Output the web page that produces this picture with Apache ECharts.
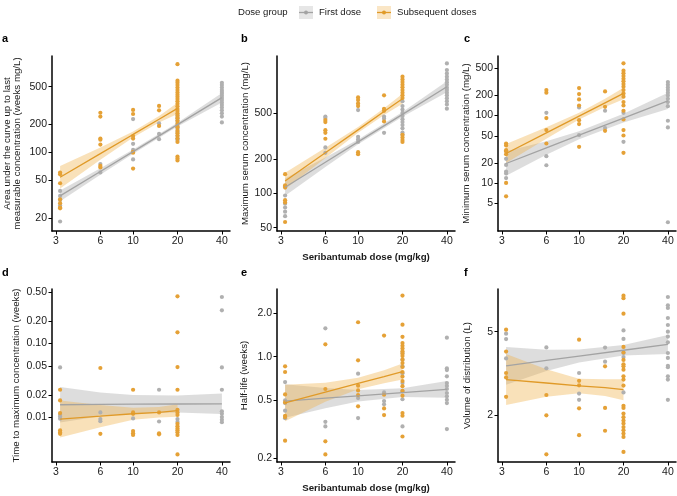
<!DOCTYPE html>
<html><head><meta charset="utf-8">
<script src="https://cdn.jsdelivr.net/npm/echarts@6/dist/echarts.min.js"></script>
<style>html,body{margin:0;padding:0;background:#fff}#c{width:677px;height:496px}</style>
</head><body><div id="c"></div>
<script>
// ---------- data ----------
const xTickLabels = ['3', '6', '10', '20', '40'];
const fitXFirst = [3.2, 6, 10, 20, 40];
const fitXSub = [3.2, 6, 10, 15, 20];
const groupNames = ['First dose', 'Subsequent doses'];

// a: AUC
const aucTicks = ['20', '50', '100', '200', '500'];
const aucFirst = [[3.2, [38.8, 34.3, 31.1, 27.1, 18.3]], [6, [75, 61]], [10, [226, 123, 106, 84]], [15, [204, 157, 138]],
  [20, [250, 235, 220, 205, 190, 178, 165, 150, 140, 135]],
  [40, [550, 520, 490, 460, 440, 420, 400, 380, 360, 340, 320, 300, 280, 260, 240, 208]]];
const aucSub = [[3.2, [60.8, 58.3, 46.8, 31.6, 28.7, 25.8, 25.3]], [6, [264, 240, 140, 136, 121, 71.6, 69]],
  [10, [283, 256, 149, 140, 101, 99, 67]], [15, [312, 280, 191]],
  [20, [870, 580, 552, 520, 490, 460, 435, 410, 390, 370, 350, 330, 310, 290, 275, 260, 245, 230, 215, 200, 185, 170, 160, 150, 140, 129, 90, 86, 82]]];
const aucFirstMid = [34.3, 62.4, 101.6, 197, 382];
const aucFirstLo = [30.0, 57.6, 96.6, 188, 340];
const aucFirstHi = [39.2, 67.6, 106.9, 206, 429];
const aucSubMid = [54.2, 96.8, 155, 225, 294];
const aucSubLo = [41.1, 83.4, 144, 207.5, 256];
const aucSubHi = [71.5, 112.4, 166.8, 244, 337.6];

// b: Cmax
const cmaxTicks = ['50', '100', '200', '500'];
const cmaxFirst = [[3.2, [115, 95.5, 81, 75, 69, 63]], [6, [470, 455, 252, 226]], [10, [535, 312, 296, 281]], [15, [468, 450, 338]],
  [20, [640, 580, 540, 505, 475, 445, 420, 395, 370, 340, 325]],
  [40, [1370, 1200, 1120, 1050, 990, 940, 890, 840, 800, 760, 720, 680, 640, 600, 550]]];
const cmaxSub = [[3.2, [147, 117, 112, 87, 83, 56]], [6, [437, 420, 357, 338, 300]], [10, [690, 654, 612, 580, 229, 220]],
  [15, [720, 549, 527, 425]], [20, [1049, 993, 942, 893, 846, 802, 760, 720, 682, 325, 308, 292, 281]]];
const cmaxFirstMid = [113, 187, 282, 491, 857];
const cmaxFirstLo = [95, 170, 268.6, 467.6, 767];
const cmaxFirstHi = [134.4, 206, 296, 515.6, 957];
const cmaxSubMid = [128, 226, 359, 519, 673];
const cmaxSubLo = [108.2, 203.8, 339, 484, 608];
const cmaxSubHi = [151.4, 250.6, 380, 556, 745];

// c: Cmin
const cminTicks = ['5', '10', '20', '50', '100', '200', '500'];
const cminFirst = [[3.2, [22.9, 18.6, 14.8, 13.9, 11.9]], [6, [109, 25, 18.4]], [10, [131, 51.2]], [15, [117, 64.9]], [20, [109, 40.8]],
  [40, [311, 284, 259, 236, 216, 197, 176, 157, 137, 83.3, 66.4, 2.65]]];
const cminSub = [[3.2, [38.5, 36, 30.7, 29.4, 26.7, 10.1, 6.4]], [6, [236, 216, 91.2, 60.7, 38.5]],
  [10, [253, 206, 172, 140, 85, 74.4, 34.4]], [15, [226, 134, 59.3]],
  [20, [586, 457, 418, 381, 347, 318, 290, 265, 236, 211, 189, 157, 140, 117, 87.2, 60.7, 50.5, 28]]];
const cminFirstMid = [19.5, 33.1, 51, 91.4, 164];
const cminFirstLo = [12.9, 26.3, 44.4, 78.6, 124.5];
const cminFirstHi = [29.5, 41.7, 58.6, 106, 216];
const cminSubMid = [27.4, 55.2, 97.5, 153, 211];
const cminSubLo = [19.9, 45.4, 86.9, 133, 173.5];
const cminSubHi = [37.8, 67.1, 109.4, 175.6, 256.6];

// d: Tmax
const tmaxTicks = ['0.01', '0.02', '0.05', '0.10', '0.20', '0.50'];
const tmaxFirst = [[3.2, [0.0476, 0.0109, 0.0103, 0.0096]], [6, [0.0117, 0.0095, 0.0089]], [10, [0.0097]], [15, [0.0237, 0.0088]],
  [20, [0.0095, 0.0087]], [40, [0.428, 0.282, 0.0476, 0.0237, 0.0121, 0.0112, 0.0101, 0.0093, 0.0086]]];
const tmaxSub = [[3.2, [0.0237, 0.017, 0.01145, 0.00667, 0.00626, 0.006]], [6, [0.0467, 0.006]],
  [10, [0.0237, 0.0117, 0.0112, 0.00653, 0.0061, 0.0058]], [15, [0.0117, 0.0061, 0.0059]],
  [20, [0.437, 0.142, 0.0481, 0.0237, 0.0127, 0.0117, 0.0108, 0.0082, 0.0076, 0.0071, 0.0067, 0.0063, 0.0058, 0.00315]]];
const tmaxFirstMid = [0.01485, 0.0150, 0.0151, 0.0152, 0.0153];
const tmaxFirstLo = [0.00854, 0.0104, 0.0113, 0.01166, 0.0111];
const tmaxFirstHi = [0.0258, 0.0217, 0.0201, 0.0198, 0.0211];
const tmaxSubMid = [0.0095, 0.0104, 0.01122, 0.01173, 0.0124];
const tmaxSubLo = [0.00534, 0.00736, 0.00933, 0.00998, 0.0102];
const tmaxSubHi = [0.0169, 0.0147, 0.0135, 0.0138, 0.0151];

// e: Half-life
const hlTicks = ['0.2', '0.5', '1.0', '2.0'];
const hlFirst = [[3.2, [0.67, 0.501, 0.48, 0.426, 0.378]], [6, [1.567, 0.357, 0.332]], [10, [0.765, 0.52, 0.379]],
  [15, [0.568, 0.496, 0.471]], [20, [1.06, 0.955, 0.86, 0.77, 0.66, 0.58, 0.51, 0.332]],
  [40, [1.352, 0.832, 0.81, 0.733, 0.66, 0.63, 0.60, 0.563, 0.534, 0.506, 0.48, 0.318]]];
const hlSub = [[3.2, [0.859, 0.785, 0.551, 0.485, 0.393, 0.385, 0.265]], [6, [1.217, 0.600, 0.262, 0.213]],
  [10, [1.725, 0.944, 0.632, 0.587, 0.545, 0.456]], [15, [1.397, 0.548, 0.441, 0.397]],
  [20, [2.63, 1.66, 1.37, 1.24, 1.19, 1.14, 1.09, 1.05, 1.01, 0.955, 0.904, 0.85, 0.785, 0.73, 0.68, 0.627, 0.583, 0.54, 0.41, 0.393, 0.283]]];
const hlFirstMid = [0.496, 0.519, 0.539, 0.567, 0.597];
const hlFirstLo = [0.381, 0.442, 0.492, 0.529, 0.522];
const hlFirstHi = [0.646, 0.610, 0.591, 0.608, 0.682];
const hlSubMid = [0.481, 0.570, 0.655, 0.729, 0.79];
const hlSubLo = [0.360, 0.491, 0.598, 0.657, 0.696];
const hlSubHi = [0.643, 0.662, 0.718, 0.808, 0.897];

// f: Volume of distribution
const vdTicks = ['2', '5'];
const vdFirst = [[3.2, [4.89, 4.61, 3.73]], [6, [4.21, 3.35]], [10, [3.18, 2.54, 2.37]], [15, [4.20, 3.60]],
  [20, [5.07, 4.62, 3.96, 3.79, 2.57]],
  [40, [7.31, 6.67, 6.48, 5.81, 5.38, 5.0, 4.74, 4.45, 3.96, 3.75, 3.44, 3.39, 3.07, 2.96, 2.37]]];
const vdSub = [[3.2, [5.11, 4.02, 3.18, 3.03, 2.45]], [6, [2.50, 2.0, 1.305]], [10, [4.58, 2.92, 2.78, 2.16, 1.61]],
  [15, [3.42, 2.17, 1.69]],
  [20, [7.42, 7.22, 6.09, 4.23, 3.98, 3.67, 3.5, 3.42, 3.3, 3.07, 2.96, 2.77, 2.22, 2.17, 2.04, 1.96, 1.89, 1.83, 1.76, 1.70, 1.64, 1.58, 1.34]]];
const vdFirstMid = [3.44, 3.65, 3.83, 4.08, 4.35];
const vdFirstLo = [2.80, 3.25, 3.57, 3.85, 3.92];
const vdFirstHi = [4.23, 4.10, 4.11, 4.32, 4.82];
const vdSubMid = [2.96, 2.85, 2.76, 2.71, 2.65];
const vdSubLo = [2.24, 2.45, 2.55, 2.47, 2.36];
const vdSubHi = [3.92, 3.31, 2.99, 2.97, 2.97];

// ---------- chart ----------
const L = Math.log10;
const FONT = 'Liberation Sans, Arial, sans-serif';
const TXT = '#1a1a1a';
const C_GREY_PT = '#b0b0b0', C_GREY_LN = '#a3a3a3', C_GREY_BAND = 'rgba(150,150,150,0.32)';
const C_OR_PT = '#e5a136', C_OR_LN = '#e09a28', C_OR_BAND = 'rgba(238,176,72,0.38)';
const X_MIN = 2.82, X_MAX = 45.4;

const panels = [
  { letter: 'a', name: 'Area under the curve up to last\nmeasurable concentration (weeks mg/L)', ticks: aucTicks, yMin: 14.5, yMax: 1062,
    first: aucFirst, sub: aucSub, fm: aucFirstMid, fl: aucFirstLo, fh: aucFirstHi, sm: aucSubMid, sl: aucSubLo, sh: aucSubHi,
    left: 52, top: 56, h: 175, gap: 30, letterX: 2, letterY: 40, xName: false },
  { letter: 'b', name: 'Maximum serum concentration (mg/L)', ticks: cmaxTicks, yMin: 46.7, yMax: 1592,
    first: cmaxFirst, sub: cmaxSub, fm: cmaxFirstMid, fl: cmaxFirstLo, fh: cmaxFirstHi, sm: cmaxSubMid, sl: cmaxSubLo, sh: cmaxSubHi,
    left: 277, top: 56, h: 175, gap: 27, letterX: 241, letterY: 40, xName: true },
  { letter: 'c', name: 'Minimum serum concentration (mg/L)', ticks: cminTicks, yMin: 1.97, yMax: 752,
    first: cminFirst, sub: cminSub, fm: cminFirstMid, fl: cminFirstLo, fh: cminFirstHi, sm: cminSubMid, sl: cminSubLo, sh: cminSubHi,
    left: 498, top: 56, h: 175, gap: 25.5, letterX: 464, letterY: 40, xName: false },
  { letter: 'd', name: 'Time to maximum concentration (weeks)', ticks: tmaxTicks, yMin: 0.00249, yMax: 0.549,
    first: tmaxFirst, sub: tmaxSub, fm: tmaxFirstMid, fl: tmaxFirstLo, fh: tmaxFirstHi, sm: tmaxSubMid, sl: tmaxSubLo, sh: tmaxSubHi,
    left: 52, top: 289, h: 173, gap: 30.5, letterX: 2, letterY: 274, xName: false },
  { letter: 'e', name: 'Half-life (weeks)', ticks: hlTicks, yMin: 0.189, yMax: 2.92,
    first: hlFirst, sub: hlSub, fm: hlFirstMid, fl: hlFirstLo, fh: hlFirstHi, sm: hlSubMid, sl: hlSubLo, sh: hlSubHi,
    left: 277, top: 289, h: 173, gap: 27.5, letterX: 241, letterY: 274, xName: true },
  { letter: 'f', name: 'Volume of distribution (L)', ticks: vdTicks, yMin: 1.2, yMax: 7.98,
    first: vdFirst, sub: vdSub, fm: vdFirstMid, fl: vdFirstLo, fh: vdFirstHi, sm: vdSubMid, sl: vdSubLo, sh: vdSubHi,
    left: 498, top: 289, h: 173, gap: 25.5, letterX: 464, letterY: 274, xName: false }
];

function fmtFor(labels) {
  const vals = labels.map(s => L(parseFloat(s)));
  return v => { let b = 0; vals.forEach((t, k) => { if (Math.abs(t - v) < Math.abs(vals[b] - v)) b = k; }); return labels[b]; };
}
function scatterData(groups) {
  const out = [];
  groups.forEach(([d, vals]) => vals.forEach(v => out.push([L(d), L(v)])));
  return out;
}
function bandSeries(i, xs, lo, hi, color) {
  return {
    type: 'custom', xAxisIndex: i, yAxisIndex: i, silent: true, z: 1,
    data: [[L(xs[0]), L(lo[0])]],
    renderItem: (params, api) => {
      const up = xs.map((x, k) => api.coord([L(x), L(hi[k])]));
      const dn = xs.map((x, k) => api.coord([L(x), L(lo[k])])).reverse();
      return { type: 'polygon', shape: { points: up.concat(dn) }, style: { fill: color } };
    }
  };
}
function lineSeries(i, xs, mid, color) {
  return { type: 'line', xAxisIndex: i, yAxisIndex: i, silent: true, z: 4, symbol: 'none',
    data: xs.map((x, k) => [L(x), L(mid[k])]), lineStyle: { color: color, width: 1.3 } };
}
function pointSeries(i, groups, color, z) {
  return { type: 'scatter', xAxisIndex: i, yAxisIndex: i, silent: true, z: z, symbolSize: 4.2,
    data: scatterData(groups), itemStyle: { color: color, opacity: 1 } };
}

const xTickVals = xTickLabels.map(s => L(parseFloat(s)));
const xFmt = fmtFor(xTickLabels);
const axisLineStyle = { show: true, onZero: false, lineStyle: { color: '#000', width: 1.5 } };
const grids = [], xAxes = [], yAxes = [], series = [], graphics = [];

panels.forEach((p, i) => {
  grids.push({ left: p.left, top: p.top, width: 178, height: p.h });
  xAxes.push({
    type: 'value', gridIndex: i, min: L(X_MIN), max: L(X_MAX),
    axisLine: axisLineStyle, splitLine: { show: false },
    axisTick: { show: true, length: 3.5, customValues: xTickVals, lineStyle: { color: '#000', width: 1 } },
    axisLabel: { customValues: xTickVals, formatter: xFmt, margin: 4.5, fontSize: 10.5, color: TXT, fontFamily: FONT },
    name: p.xName ? 'Seribantumab dose (mg/kg)' : '', nameLocation: 'middle', nameGap: 21,
    nameTextStyle: { fontSize: 9.7, fontWeight: 'bold', color: TXT, fontFamily: FONT }
  });
  const yVals = p.ticks.map(s => L(parseFloat(s)));
  yAxes.push({
    type: 'value', gridIndex: i, min: L(p.yMin), max: L(p.yMax),
    axisLine: axisLineStyle, splitLine: { show: false },
    axisTick: { show: true, length: 3.5, customValues: yVals, lineStyle: { color: '#000', width: 1 } },
    axisLabel: { customValues: yVals, formatter: fmtFor(p.ticks), margin: 5, fontSize: 10.5, color: TXT, fontFamily: FONT },
    name: p.name, nameLocation: 'middle', nameGap: p.gap,
    nameTextStyle: { fontSize: 9.7, color: TXT, fontFamily: FONT, lineHeight: 10 }
  });
  series.push(bandSeries(i, fitXFirst, p.fl, p.fh, C_GREY_BAND));
  series.push(bandSeries(i, fitXSub, p.sl, p.sh, C_OR_BAND));
  series.push(pointSeries(i, p.first, C_GREY_PT, 2));
  series.push(pointSeries(i, p.sub, C_OR_PT, 3));
  series.push(lineSeries(i, fitXFirst, p.fm, C_GREY_LN));
  series.push(lineSeries(i, fitXSub, p.sm, C_OR_LN));
  graphics.push({ type: 'text', left: p.letterX, top: p.letterY - 7,
    style: { text: p.letter, font: 'bold 11px ' + FONT, fill: '#000' } });
});

// legend (top)
function legendKey(x, fill, boxFill, label) {
  return [
    { type: 'rect', shape: { x: x, y: 6, width: 14, height: 13 }, style: { fill: boxFill } },
    { type: 'line', shape: { x1: x, y1: 12.5, x2: x + 14, y2: 12.5 }, style: { stroke: fill, lineWidth: 1.3 } },
    { type: 'circle', shape: { cx: x + 7, cy: 12.5, r: 2 }, style: { fill: fill } },
    { type: 'text', x: x + 20, y: 12.5, style: { text: label, font: '9.6px ' + FONT, fill: TXT, verticalAlign: 'middle' } }
  ];
}
graphics.push({ type: 'text', x: 238, y: 12.5, style: { text: 'Dose group', font: '9.6px ' + FONT, fill: TXT, verticalAlign: 'middle' } });
legendKey(299, C_GREY_LN, '#e6e6e6', groupNames[0]).forEach(g => graphics.push(g));
legendKey(377, C_OR_LN, '#fae6c6', groupNames[1]).forEach(g => graphics.push(g));

const chart = echarts.init(document.getElementById('c'), null, { renderer: 'canvas' });
chart.setOption({
  animation: false, backgroundColor: '#fff',
  textStyle: { fontFamily: FONT },
  grid: grids, xAxis: xAxes, yAxis: yAxes, series: series, graphic: graphics
});
</script>
</body></html>
